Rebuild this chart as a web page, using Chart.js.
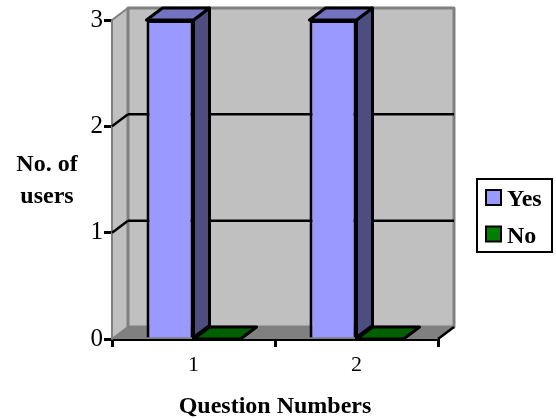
<!DOCTYPE html>
<html>
<head>
<meta charset="utf-8">
<title>No. of users per question</title>
<script src="https://cdn.jsdelivr.net/npm/chart.js@4/dist/chart.umd.min.js"></script>
<style>
    html, body { margin: 0; padding: 0; background: #fff; }
    canvas { display: block; }
</style>
</head>
<body>
<canvas id="usersChart" width="556" height="419"></canvas>
<script>
const categories = ['1', '2'];
const yesValues = [3, 3];
const noValues = [0, 0];
const yTicks = [0, 1, 2, 3];

const FONT = '"Liberation Serif", "Times New Roman", serif';
const DEPTH_X = 16;
const DEPTH_Y = 12;

function polygon(ctx, points, fill, stroke, lineWidth) {
    ctx.beginPath();
    points.forEach((p, i) => i ? ctx.lineTo(p[0], p[1]) : ctx.moveTo(p[0], p[1]));
    ctx.closePath();
    ctx.fillStyle = fill;
    ctx.fill();
    if (stroke) {
        ctx.strokeStyle = stroke;
        ctx.lineWidth = lineWidth;
        ctx.lineJoin = 'round';
        ctx.stroke();
    }
}

function line(ctx, x1, y1, x2, y2, color, width) {
    ctx.beginPath();
    ctx.moveTo(x1, y1);
    ctx.lineTo(x2, y2);
    ctx.strokeStyle = color;
    ctx.lineWidth = width;
    ctx.stroke();
}

// Walls and floor behind the bars
const wallsPlugin = {
    id: 'walls',
    beforeDatasetsDraw(chart) {
        const { ctx, chartArea: { left, right, top, bottom }, scales: { y } } = chart;
        ctx.save();
        polygon(ctx, [[left, top], [left + DEPTH_X, top - DEPTH_Y], [left + DEPTH_X, bottom - DEPTH_Y], [left, bottom]], '#C0C0C0', '#808080', 2);
        polygon(ctx, [[left + DEPTH_X, top - DEPTH_Y], [right + DEPTH_X, top - DEPTH_Y], [right + DEPTH_X, bottom - DEPTH_Y], [left + DEPTH_X, bottom - DEPTH_Y]], '#C0C0C0', '#808080', 3);
        polygon(ctx, [[left, bottom], [left + DEPTH_X, bottom - DEPTH_Y], [right + DEPTH_X, bottom - DEPTH_Y], [right, bottom]], '#808080');
        yTicks.slice(1, -1).forEach(value => {
            const py = y.getPixelForValue(value);
            line(ctx, left, py, left + DEPTH_X, py - DEPTH_Y, '#000', 2.5);
            line(ctx, left + DEPTH_X, py - DEPTH_Y, right + DEPTH_X, py - DEPTH_Y, '#000', 2.5);
        });
        line(ctx, right, bottom, right + DEPTH_X, bottom - DEPTH_Y, '#000', 2.5);
        ctx.restore();
    }
};

// Side and top faces of each bar, taken from the bar elements
const facesPlugin = {
    id: 'faces',
    afterDatasetsDraw(chart) {
        const { ctx } = chart;
        ctx.save();
        chart.data.datasets.forEach((dataset, i) => {
            chart.getDatasetMeta(i).data.forEach(bar => {
                const l = bar.x - bar.width / 2;
                const r = bar.x + bar.width / 2;
                if (bar.base > bar.y) {
                    polygon(ctx, [[r, bar.y], [r + DEPTH_X, bar.y - DEPTH_Y], [r + DEPTH_X, bar.base - DEPTH_Y], [r, bar.base]], dataset.sideColor, '#000', 3);
                }
                polygon(ctx, [[l, bar.y], [l + DEPTH_X, bar.y - DEPTH_Y], [r + DEPTH_X, bar.y - DEPTH_Y], [r, bar.y]], dataset.topColor, '#000', 3);
            });
        });
        ctx.restore();
    }
};

// Axis titles and boxed legend
const labelsPlugin = {
    id: 'labels',
    afterDraw(chart) {
        const { ctx, chartArea: { left, right, top, bottom } } = chart;
        const mid = (top + bottom) / 2;
        ctx.save();
        ctx.fillStyle = '#000';
        ctx.font = 'bold 24px ' + FONT;
        ctx.textAlign = 'center';
        ctx.textBaseline = 'middle';
        ctx.fillText('No. of', 47, mid - 15);
        ctx.fillText('users', 47, mid + 17);
        ctx.fillText('Question Numbers', (left + right) / 2, 407);

        ctx.strokeStyle = '#000';
        ctx.lineWidth = 2;
        ctx.strokeRect(477, 179, 75, 73);
        ctx.textAlign = 'left';
        chart.data.datasets.forEach((dataset, i) => {
            const rowY = 198 + i * 36.5;
            ctx.fillStyle = dataset.backgroundColor;
            ctx.fillRect(486, rowY - 8, 15, 15);
            ctx.strokeRect(486, rowY - 8, 15, 15);
            ctx.fillStyle = '#000';
            ctx.fillText(dataset.label, 507, rowY + 2);
        });
        ctx.restore();
    }
};

new Chart(document.getElementById('usersChart').getContext('2d'), {
    type: 'bar',
    data: {
        labels: categories,
        datasets: [
            { label: 'Yes', data: yesValues, backgroundColor: '#9999FF', sideColor: '#4D4D80', topColor: '#7373BF', borderColor: '#000', borderWidth: 3 },
            { label: 'No', data: noValues, backgroundColor: '#008000', sideColor: '#004000', topColor: '#006000', borderColor: '#000', borderWidth: 0 }
        ]
    },
    options: {
        responsive: false,
        animation: false,
        layout: { padding: { top: 20, right: 118, bottom: 0, left: 0 } },
        categoryPercentage: 0.577,
        barPercentage: 1,
        plugins: {
            legend: { display: false },
            tooltip: { enabled: false }
        },
        scales: {
            x: {
                afterFit(scale) { scale.height = 80; },
                grid: { drawOnChartArea: false, offset: true, color: '#000', lineWidth: 3, tickLength: 8 },
                border: { color: '#000', width: 3 },
                ticks: { color: '#000', font: { family: FONT, size: 22 }, padding: 5, maxRotation: 0 }
            },
            y: {
                min: 0,
                max: 3,
                afterFit(scale) { scale.width = 112; },
                afterBuildTicks(scale) { scale.ticks = yTicks.map(value => ({ value })); },
                grid: { drawOnChartArea: false, color: '#000', lineWidth: 3, tickLength: 8 },
                border: { color: '#000', width: 3 },
                ticks: { color: '#000', font: { family: FONT, size: 25 }, padding: 1 }
            }
        }
    },
    plugins: [wallsPlugin, facesPlugin, labelsPlugin]
});
</script>
</body>
</html>
